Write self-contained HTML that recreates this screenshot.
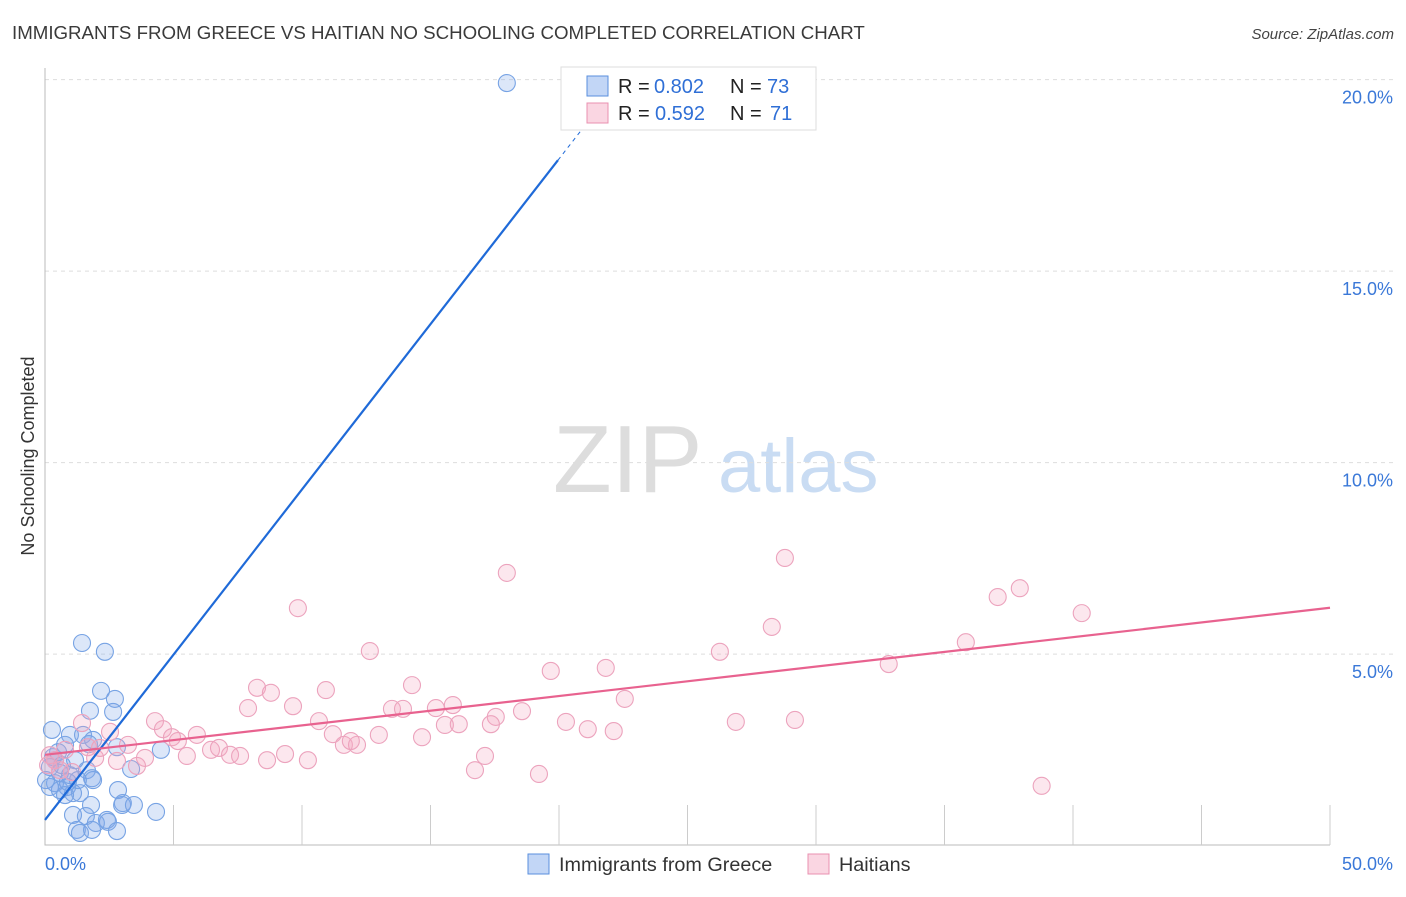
<!DOCTYPE html>
<html><head><meta charset="utf-8"><style>
body{margin:0;background:#fff;font-family:"Liberation Sans",sans-serif;}
svg text{font-family:"Liberation Sans",sans-serif;}
</style></head><body>
<svg id="chart" width="1406" height="892" xmlns="http://www.w3.org/2000/svg">
<text x="12" y="39" font-size="18.7" fill="#3a3a3a">IMMIGRANTS FROM GREECE VS HAITIAN NO SCHOOLING COMPLETED CORRELATION CHART</text>
<text x="1394" y="39" font-size="15" fill="#444" text-anchor="end" font-style="italic">Source: ZipAtlas.com</text>
<text transform="translate(34,456) rotate(-90)" font-size="18" fill="#333" text-anchor="middle">No Schooling Completed</text>
<g>
<text x="553" y="492" font-size="96" font-family="Liberation Serif, serif" fill="#ddd">ZIP</text>
<text x="718" y="492" font-size="76" fill="#c9dcf3">atlas</text>
</g>
<g id="grid"></g><g id="axes"></g><g id="pts"></g><g id="lines"></g>
<g>
<rect x="561" y="67" width="255" height="63" fill="#fff" stroke="#ddd"/>
<rect x="587" y="76" width="21" height="20" fill="rgba(120,165,235,0.45)" stroke="#5a8fde"/>
<rect x="587" y="103" width="21" height="20" fill="rgba(245,165,190,0.45)" stroke="#e990b0"/>
<text x="618" y="93" font-size="20" fill="#222">R =</text>
<text x="654" y="93" font-size="20" fill="#2f6fd6">0.802</text>
<text x="730" y="93" font-size="20" fill="#222">N =</text>
<text x="767" y="93" font-size="20" fill="#2f6fd6">73</text>
<text x="618" y="120" font-size="20" fill="#222">R =</text>
<text x="655" y="120" font-size="20" fill="#2f6fd6">0.592</text>
<text x="730" y="120" font-size="20" fill="#222">N =</text>
<text x="770" y="120" font-size="20" fill="#2f6fd6">71</text>
</g>
<g>
<rect x="528" y="854" width="21" height="20" fill="rgba(120,165,235,0.45)" stroke="#5a8fde"/>
<text x="559" y="871" font-size="19.8" fill="#333">Immigrants from Greece</text>
<rect x="808" y="854" width="21" height="20" fill="rgba(245,165,190,0.45)" stroke="#e990b0"/>
<text x="839" y="871" font-size="19.8" fill="#333">Haitians</text>
</g>
</svg>
<script>
const blueX=[17.97,1.44,2.33,2.18,2.72,1.75,2.65,0.27,0.97,1.48,1.87,1.71,2.80,4.51,3.35,0.78,0.31,0.39,0.19,0.58,1.17,1.63,1.83,1.87,0.39,0.86,0.19,0.58,1.09,1.36,0.78,2.84,3.03,3.00,3.46,1.79,4.32,1.09,1.59,2.41,1.98,2.45,1.24,1.36,1.83,2.80,0.51,0.66,0.97,1.28,0.04,0.89];
const blueY=[19.91,5.29,5.06,4.04,3.83,3.52,3.49,3.02,2.89,2.89,2.76,2.65,2.57,2.50,2.00,2.63,2.31,2.23,2.05,1.90,2.23,1.97,1.76,1.71,1.63,1.53,1.53,1.45,1.37,1.37,1.32,1.45,1.11,1.06,1.06,1.06,0.88,0.80,0.77,0.67,0.59,0.62,0.41,0.33,0.41,0.38,2.44,2.10,1.84,1.71,1.71,1.66];
const pinkX=[17.97,28.79,37.93,37.07,40.34,35.83,32.83,26.26,28.28,21.82,19.68,12.64,9.84,8.25,8.79,7.90,9.65,10.93,14.28,13.50,13.93,15.21,15.87,17.54,17.35,18.56,22.56,20.27,21.12,22.13,26.88,29.18,15.56,16.10,10.66,11.20,11.63,12.14,12.99,14.67,11.90,17.12,16.73,19.22,38.78,4.28,4.59,4.94,5.17,5.91,5.52,6.46,6.77,7.20,7.59,8.64,9.34,10.23,3.23,3.58,3.89,2.80,2.53,1.44,1.67,1.95,0.78,0.39,0.58,1.05,0.19,0.12,2.14];
const pinkY=[7.12,7.51,6.72,6.49,6.07,5.31,4.74,5.06,5.71,4.64,4.56,5.08,6.20,4.12,3.99,3.59,3.64,4.06,4.19,3.57,3.57,3.59,3.67,3.36,3.17,3.51,3.83,3.23,3.04,2.99,3.23,3.28,3.15,3.17,3.25,2.91,2.63,2.63,2.89,2.83,2.73,2.34,1.97,1.87,1.56,3.25,3.04,2.83,2.73,2.89,2.34,2.50,2.55,2.37,2.34,2.23,2.39,2.23,2.63,2.08,2.29,2.21,2.97,3.20,2.57,2.29,2.50,2.23,1.97,1.92,2.36,2.10,2.55];
const yTicks=[5,10,15,20];
const yTickLabels=["5.0%","10.0%","15.0%","20.0%"];
const xTicks=[0,5,10,15,20,25,30,35,40,45,50];
const blueTrend=[0.67,0.863];   // intercept, slope
const pinkTrend=[2.37,6.21];    // y at x=0, y at x=50
const NS="http://www.w3.org/2000/svg";
const sx=v=>45+v*25.7, sy=v=>845.6-v*38.3;
function mk(p,t,a){const e=document.createElementNS(NS,t);for(const k in a)e.setAttribute(k,a[k]);document.getElementById(p).appendChild(e);return e;}
yTicks.forEach((t,i)=>{
 const g=mk('grid','line',{x1:45,x2:1394,y1:sy(t),y2:sy(t),stroke:'#ddd','stroke-dasharray':'4,4'});
 
 
 const l=mk('axes','text',{x:1393,y:sy(t)+24,'font-size':18,fill:'#3a78d8','text-anchor':'end'});
 l.textContent=yTickLabels[i];
 
 
});
const ax=mk('axes','path',{d:'M45 68 V845 H1330',stroke:'#bbb',fill:'none'});


xTicks.slice(1).forEach(t=>{
 const e=mk('axes','line',{x1:sx(t),x2:sx(t),y1:805,y2:845,stroke:'#ccc'});
 
 
});
const x0=mk('axes','text',{x:45,y:870,'font-size':18,fill:'#3a78d8'});x0.textContent='0.0%';


const x1=mk('axes','text',{x:1393,y:870,'font-size':18,fill:'#3a78d8','text-anchor':'end'});x1.textContent='50.0%';


blueX.forEach((x,i)=>{
 const c=mk('pts','circle',{cx:sx(x),cy:sy(blueY[i]),r:8.5,fill:'rgba(130,170,235,0.28)',stroke:'#77a3e4','stroke-width':1.1});
 
 
});
pinkX.forEach((x,i)=>{
 const c=mk('pts','circle',{cx:sx(x),cy:sy(pinkY[i]),r:8.5,fill:'rgba(245,170,195,0.28)',stroke:'#eca3bd','stroke-width':1.1});
 
 
});
const bt=x=>blueTrend[0]+blueTrend[1]*x;
const b1=mk('lines','line',{x1:sx(0),y1:sy(bt(0)),x2:sx(19.96),y2:sy(bt(19.96)),stroke:'#1f6ad8','stroke-width':2.2});


const b2=mk('lines','line',{x1:sx(19.96),y1:sy(bt(19.96)),x2:sx(21),y2:sy(bt(21)),stroke:'#1f6ad8','stroke-width':1,'stroke-dasharray':'4,4'});


const p1=mk('lines','line',{x1:sx(0),y1:sy(pinkTrend[0]),x2:sx(50),y2:sy(pinkTrend[1]),stroke:'#e8628f','stroke-width':2.2});


</script>
</body></html>
